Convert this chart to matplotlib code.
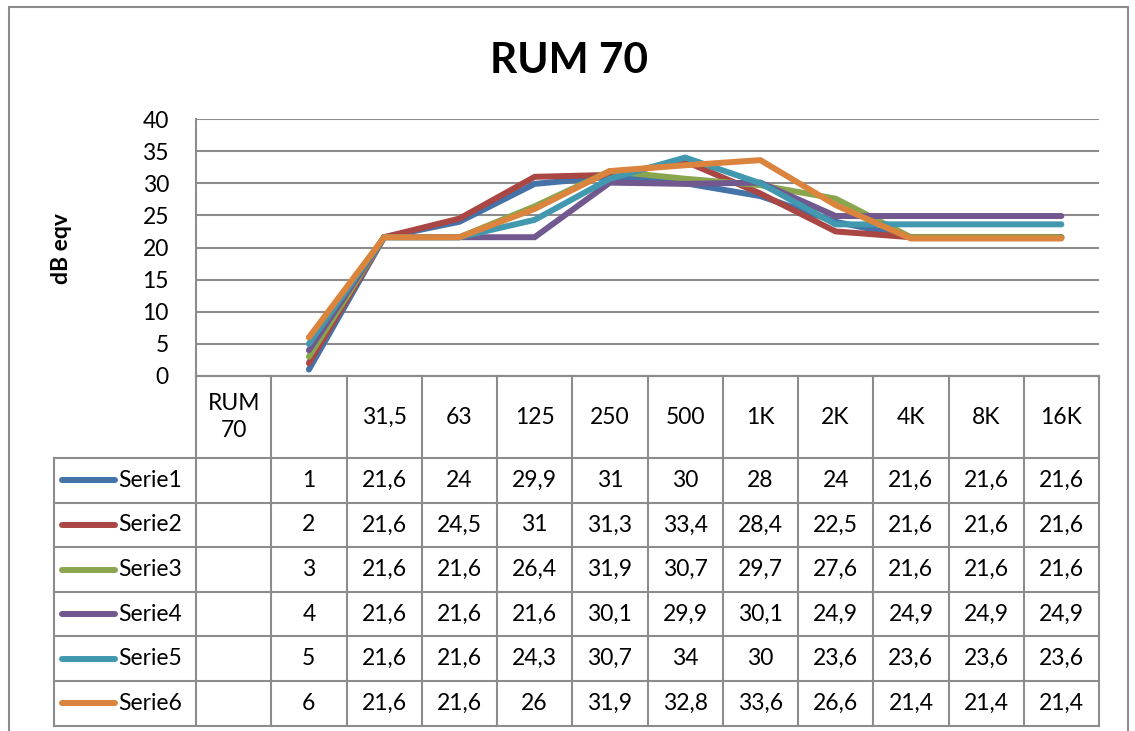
import matplotlib.pyplot as plt
import numpy as np

plt.rcParams['font.family'] = ['Lato', 'DejaVu Sans']

kategorie = ['RUM\n70', '', '31,5', '63', '125', '250', '500', '1K', '2K', '4K', '8K', '16K']
nazwy = ['Serie1', 'Serie2', 'Serie3', 'Serie4', 'Serie5', 'Serie6']
kolory = ['#4572A7', '#AA4643', '#89A54E', '#71588F', '#4198AF', '#DB843D']

# pierwsza kolumna (RUM 70) pusta
serie1 = [np.nan, 1, 21.6, 24, 29.9, 31, 30, 28, 24, 21.6, 21.6, 21.6]
serie2 = [np.nan, 2, 21.6, 24.5, 31, 31.3, 33.4, 28.4, 22.5, 21.6, 21.6, 21.6]
serie3 = [np.nan, 3, 21.6, 21.6, 26.4, 31.9, 30.7, 29.7, 27.6, 21.6, 21.6, 21.6]
serie4 = [np.nan, 4, 21.6, 21.6, 21.6, 30.1, 29.9, 30.1, 24.9, 24.9, 24.9, 24.9]
serie5 = [np.nan, 5, 21.6, 21.6, 24.3, 30.7, 34, 30, 23.6, 23.6, 23.6, 23.6]
serie6 = [np.nan, 6, 21.6, 21.6, 26, 31.9, 32.8, 33.6, 26.6, 21.4, 21.4, 21.4]
dane = [serie1, serie2, serie3, serie4, serie5, serie6]

W, H = 1135, 731
fig = plt.figure(figsize=(W / 100, H / 100), dpi=100)

def fx(px):
    return px / W

def fy(py):
    return 1 - py / H

szary = '#8c8c8c'
fs = 16.5

# ramka wykresu
fig.patches.append(plt.Rectangle((fx(9), fy(740)), fx(1128) - fx(9), fy(7) - fy(740),
                                 transform=fig.transFigure, fill=False, ec=szary, lw=1.5))

# obszar wykresu
L, R, T, B = 196, 1099, 119, 376
ax = fig.add_axes([fx(L), fy(B), fx(R) - fx(L), fy(T) - fy(B)])
x = np.arange(len(kategorie))
for s, n, k in zip(dane, nazwy, kolory):
    ax.plot(x, s, color=k, lw=4.3, solid_capstyle='round', solid_joinstyle='miter', label=n)
ax.set_xlim(-0.5, len(kategorie) - 0.5)
ax.set_ylim(0, 40)
ax.set_yticks(range(0, 41, 5))
ax.yaxis.grid(True, color=szary, lw=1.5)
ax.set_axisbelow(True)
ax.tick_params(axis='y', length=0, pad=19.5, labelsize=fs)
ax.set_xticks([])
for sp in ['top', 'right']:
    ax.spines[sp].set_visible(False)
for sp in ['left', 'bottom']:
    ax.spines[sp].set_color(szary)
    ax.spines[sp].set_linewidth(1.5)

fig.text(fx(569), fy(73), 'RUM 70', ha='center', va='baseline', fontsize=30.5, fontweight='bold')
fig.text(fx(62), fy(248), 'dB eqv', ha='center', va='center', rotation=90,
         fontsize=16.5, fontweight='bold')

# tabela z danymi
TB = 725.6
hdr = 82
wiersz = (TB - B - hdr) / 6
tab = fig.add_axes([fx(L), fy(TB), fx(R) - fx(L), fy(B) - fy(TB)])
tab.set_xlim(-0.5, len(kategorie) - 0.5)
tab.set_ylim(TB - B, 0)
tab.axis('off')

kol_px = (R - L) / len(kategorie)

def ux(px):
    return (px - L) / kol_px - 0.5

lewa = ux(54)
kw = dict(color=szary, lw=1.5, clip_on=False, solid_capstyle='projecting')
# linie pionowe
for i in range(len(kategorie) + 1):
    tab.plot([i - 0.5, i - 0.5], [0, TB - B], **kw)
tab.plot([lewa, lewa], [hdr, TB - B], **kw)
# linie poziome
tab.plot([-0.5, len(kategorie) - 0.5], [0, 0], **kw)
for j in range(7):
    y = hdr + j * wiersz
    tab.plot([lewa, len(kategorie) - 0.5], [y, y], **kw)

for i, kat in enumerate(kategorie):
    tab.text(i, hdr / 2, kat, ha='center', va='center', fontsize=fs, linespacing=1.4)

for j, (s, n, k) in enumerate(zip(dane, nazwy, kolory)):
    yc = hdr + (j + 0.5) * wiersz
    tab.plot([ux(62), ux(115)], [yc, yc], color=k, lw=4.3, solid_capstyle='round', clip_on=False)
    tab.text(ux(118), yc, n, ha='left', va='center', fontsize=fs)
    for i, v in enumerate(s):
        if np.isnan(v):
            continue
        tab.text(i, yc, f'{v:g}'.replace('.', ','), ha='center', va='center', fontsize=fs)

plt.savefig('out.png', dpi=100)
